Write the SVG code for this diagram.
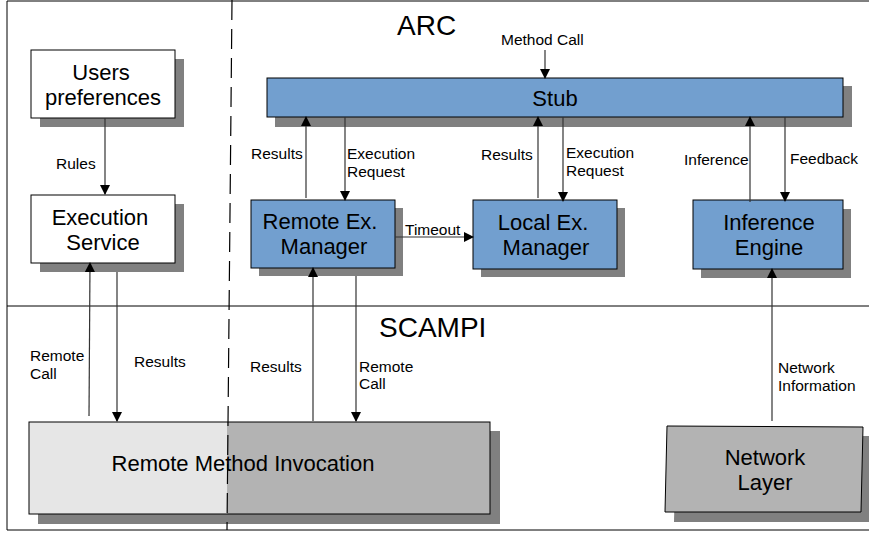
<svg xmlns="http://www.w3.org/2000/svg" width="869" height="534" viewBox="0 0 869 534">
<style>
text{font-family:"Liberation Sans",Arial,sans-serif;fill:#000}
.lbl{font-size:15.5px}
.nt{font-size:22px;text-anchor:middle}
.big{font-size:28px}
.sh{fill:#808080}
.box{stroke:#000;stroke-width:1}
.w{fill:#fff}
.b{fill:#729fcf}
.g{fill:#b3b3b3}
.c{stroke:#333;stroke-width:1.2;fill:none}
.frame{stroke:#000;stroke-width:1;fill:none}
</style>
<defs>
<marker id="ah" markerWidth="10" markerHeight="10" refX="9" refY="5" orient="auto" markerUnits="userSpaceOnUse">
<path d="M0,0 L10,5 L0,10 Z" fill="#000"/>
</marker>
</defs>
<g id="frame">
<path class="frame" d="M7,530 V1 H869"/>
<path class="frame" d="M7,306 H869"/>
<path class="frame" d="M7,530 H869" stroke="#555"/>
</g>
<text class="big" x="397" y="35">ARC</text>
<text class="big" x="379" y="337">SCAMPI</text>
<g id="users-preferences">
<rect class="sh" x="40" y="59" width="144" height="68"/>
<rect class="box w" x="31" y="50" width="144" height="68"/>
<text class="nt" x="101" y="80">Users</text>
<text class="nt" x="103" y="105">preferences</text>
</g>
<g id="execution-service">
<rect class="sh" x="40" y="204" width="144" height="68"/>
<rect class="box w" x="31" y="195" width="144" height="68"/>
<text class="nt" x="100" y="225">Execution</text>
<text class="nt" x="103" y="250">Service</text>
</g>
<g id="stub">
<rect class="sh" x="275" y="86" width="577" height="41"/>
<rect class="box b" x="267" y="78" width="576" height="39"/>
<text class="nt" x="555" y="106">Stub</text>
</g>
<g id="remote-ex-manager">
<rect class="sh" x="259" y="208" width="144" height="68"/>
<rect class="box b" x="251" y="200" width="144" height="68"/>
<text class="nt" x="320" y="229">Remote Ex.</text>
<text class="nt" x="324" y="254">Manager</text>
</g>
<g id="local-ex-manager">
<rect class="sh" x="481" y="208" width="144" height="69"/>
<rect class="box b" x="473" y="200" width="144" height="69"/>
<text class="nt" x="543" y="230">Local Ex.</text>
<text class="nt" x="546" y="255">Manager</text>
</g>
<g id="inference-engine">
<rect class="sh" x="701" y="209" width="150" height="69"/>
<rect class="box b" x="693" y="200" width="150" height="69"/>
<text class="nt" x="769" y="230">Inference</text>
<text class="nt" x="769" y="255">Engine</text>
</g>
<g id="remote-method-invocation">
<rect class="sh" x="38" y="431" width="462" height="93"/>
<rect x="29" y="422" width="198" height="92" fill="#e6e6e6"/>
<rect x="227" y="422" width="263" height="92" fill="#b3b3b3"/>
<rect class="box" x="29" y="422" width="461" height="92" fill="none"/>
<text class="nt" x="243" y="471">Remote Method Invocation</text>
</g>
<g id="network-layer">
<polygon class="sh" points="676,436 871,436 869,522 674,522"/>
<polygon class="box g" points="667,426 863,427 861,512 665,512"/>
<text class="nt" x="765" y="465">Network</text>
<text class="nt" x="765" y="490">Layer</text>
</g>
<path d="M232,0 L227,530" stroke="#000" stroke-width="1.2" stroke-dasharray="20,9" fill="none"/>
<g id="connectors">
<line class="c" x1="545" y1="50" x2="545" y2="78" marker-end="url(#ah)"/>
<line class="c" x1="105" y1="118" x2="105" y2="194" marker-end="url(#ah)"/>
<line class="c" x1="306" y1="198" x2="306" y2="117" marker-end="url(#ah)"/>
<line class="c" x1="345" y1="117" x2="345" y2="200" marker-end="url(#ah)"/>
<line class="c" x1="538" y1="198" x2="538" y2="117" marker-end="url(#ah)"/>
<line class="c" x1="563" y1="117" x2="563" y2="201" marker-end="url(#ah)"/>
<line class="c" x1="750" y1="202" x2="750" y2="117" marker-end="url(#ah)"/>
<line class="c" x1="785" y1="117" x2="785" y2="201" marker-end="url(#ah)"/>
<line class="c" x1="395" y1="237" x2="473" y2="237" marker-end="url(#ah)"/>
<line class="c" x1="89" y1="416" x2="90" y2="263" marker-end="url(#ah)"/>
<line class="c" x1="117" y1="272" x2="117" y2="421" marker-end="url(#ah)"/>
<line class="c" x1="313" y1="421" x2="313" y2="268" marker-end="url(#ah)"/>
<line class="c" x1="356" y1="276" x2="356" y2="421" marker-end="url(#ah)"/>
<line class="c" x1="772" y1="421" x2="772" y2="269" marker-end="url(#ah)"/>
</g>
<g id="labels">
<text class="lbl" x="501" y="45">Method Call</text>
<text class="lbl" x="56" y="169">Rules</text>
<text class="lbl" x="251" y="159">Results</text>
<text class="lbl" x="347" y="159">Execution</text>
<text class="lbl" x="347" y="177">Request</text>
<text class="lbl" x="481" y="160">Results</text>
<text class="lbl" x="566" y="158">Execution</text>
<text class="lbl" x="566" y="176">Request</text>
<text class="lbl" x="684" y="165">Inference</text>
<text class="lbl" x="790" y="164">Feedback</text>
<text class="lbl" x="405" y="235">Timeout</text>
<text class="lbl" x="30" y="361">Remote</text>
<text class="lbl" x="30" y="379">Call</text>
<text class="lbl" x="134" y="367">Results</text>
<text class="lbl" x="250" y="372">Results</text>
<text class="lbl" x="359" y="372">Remote</text>
<text class="lbl" x="359" y="389">Call</text>
<text class="lbl" x="778" y="373">Network</text>
<text class="lbl" x="778" y="391">Information</text>
</g>
</svg>
